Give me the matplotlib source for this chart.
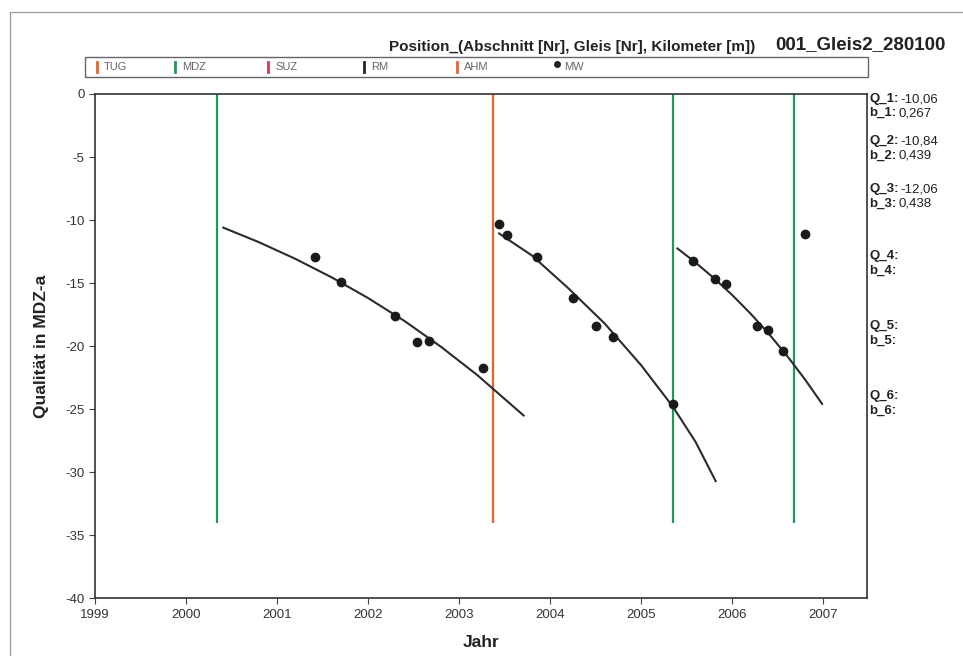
import matplotlib
matplotlib.use("Agg")
import matplotlib.pyplot as plt
from matplotlib.patches import Rectangle
from matplotlib.lines import Line2D

plt.rcParams['font.family'] = ['Liberation Sans', 'DejaVu Sans']
plt.rcParams['axes.unicode_minus'] = False

W, H = 963, 659

# measured values (MW) per section
mw_year = [2001.42, 2001.70, 2002.30, 2002.54, 2002.67, 2003.26,
           2003.44, 2003.53, 2003.86, 2004.25, 2004.50, 2004.69, 2005.35,
           2005.57, 2005.81, 2005.93, 2006.28, 2006.39, 2006.56, 2006.80]
mw_value = [-12.9, -14.9, -17.6, -19.7, -19.6, -21.7,
            -10.3, -11.2, -12.9, -16.2, -18.4, -19.3, -24.6,
            -13.25, -14.7, -15.1, -18.4, -18.7, -20.4, -11.1]

# fitted curves
fit1_year = [2000.41, 2000.8, 2001.2, 2001.6, 2002.0, 2002.4, 2002.8, 2003.2, 2003.71]
fit1_value = [-10.6, -11.75, -13.07, -14.54, -16.18, -18.0, -20.04, -22.29, -25.5]
fit2_year = [2003.44, 2003.8, 2004.2, 2004.6, 2005.0, 2005.35, 2005.6, 2005.82]
fit2_value = [-11.06, -12.8, -15.4, -18.2, -21.5, -24.8, -27.6, -30.7]
fit3_year = [2005.40, 2005.6, 2005.8, 2006.0, 2006.2, 2006.4, 2006.6, 2006.8, 2006.99]
fit3_value = [-12.25, -13.37, -14.6, -15.93, -17.39, -18.98, -20.72, -22.62, -24.58]

# maintenance events
event_year = [2000.34, 2003.375, 2005.347, 2006.685]
event_type = ['MDZ', 'AHM', 'MDZ', 'MDZ']

legend_names = ['TUG', 'MDZ', 'SUZ', 'RM', 'AHM', 'MW']
type_colors = {'TUG': '#e8632a', 'MDZ': '#1b9a5c', 'SUZ': '#d43a55',
               'RM': '#222222', 'AHM': '#e8632a', 'MW': '#222222'}

q_labels = ['Q_1:', 'b_1:', 'Q_2:', 'b_2:', 'Q_3:', 'b_3:',
            'Q_4:', 'b_4:', 'Q_5:', 'b_5:', 'Q_6:', 'b_6:']
q_values = ['-10,06', '0,267', '-10,84', '0,439', '-12,06', '0,438',
            '', '', '', '', '', '']


def px(x, y):
    return x / W, 1 - y / H


fig = plt.figure(figsize=(W / 100, H / 100), dpi=100)
ax = fig.add_axes([95 / W, 1 - 598.3 / H, 771.7 / W, 504.3 / H])

for yr, kind in zip(event_year, event_type):
    ax.vlines(yr, -34, 0, colors=type_colors[kind], lw=1.6, zorder=2)

for xs, ys in [(fit1_year, fit1_value), (fit2_year, fit2_value), (fit3_year, fit3_value)]:
    ax.plot(xs, ys, color='#2b2b2b', lw=1.5, zorder=3)

ax.plot(mw_year, mw_value, 'o', color='#1a1a1a', ms=6, zorder=4)

ax.set_xlim(1999, 2007.48)
ax.set_ylim(-40, 0)
ax.set_xticks(range(1999, 2008))
ax.set_yticks(range(-40, 1, 5))
ax.tick_params(direction='out', length=4, width=0.8, colors='#444444',
               labelsize=9.5, labelcolor='#333333')
for s in ax.spines.values():
    s.set_color('#333333')
    s.set_linewidth(1.2)

ax.set_xlabel('Jahr', fontsize=12.5, fontweight='bold', color='#222222', labelpad=10)
ax.set_ylabel('Qualität in MDZ-a', fontsize=12.5, fontweight='bold', color='#222222', labelpad=12)

# title texts
fig.text(*px(755, 47), 'Position_(Abschnitt [Nr], Gleis [Nr], Kilometer [m])',
         ha='right', va='center', fontsize=11, fontweight='bold', color='#222222')
fig.text(*px(775, 45), '001_Gleis2_280100', ha='left', va='center',
         fontsize=13.5, fontweight='bold', color='#222222')

# legend box
fig.add_artist(Rectangle(px(85, 77), 783 / W, 20 / H, transform=fig.transFigure,
                         fill=False, edgecolor='#666666', lw=1))
leg_x = [97, 175, 268, 364, 457, 557]
for name, lx in zip(legend_names, leg_x):
    if name == 'MW':
        fig.add_artist(Line2D([lx / W], [1 - 64 / H], marker='o', ms=4,
                              color=type_colors[name], transform=fig.transFigure))
    else:
        fig.add_artist(Line2D([lx / W, lx / W], [1 - 62 / H, 1 - 72 / H], lw=2,
                              color=type_colors[name], transform=fig.transFigure))
    fig.text(*px(lx + 7, 67), name, ha='left', va='center', fontsize=8, color='#666666')

# scan frame (left and top edges)
fig.add_artist(Line2D([10 / W, 10 / W, 1.0], [1 - 655 / H, 1 - 12 / H, 1 - 12 / H],
                      color='#999999', lw=0.9, transform=fig.transFigure))

# parameter column
q_y = [99, 113, 141, 156, 189, 204, 256, 271, 326, 341, 396, 411]
fig.canvas.draw()
renderer = fig.canvas.get_renderer()
for lab, val, yy in zip(q_labels, q_values, q_y):
    t = fig.text(*px(869, yy), lab, ha='left', va='center', fontsize=9.5,
                 fontweight='bold', color='#222222')
    if val:
        bb = t.get_window_extent(renderer)
        fig.text(bb.x1 / W + 2 / W, 1 - yy / H, val, ha='left', va='center',
                 fontsize=9.5, color='#222222')

fig.savefig('out.png', dpi=100)
